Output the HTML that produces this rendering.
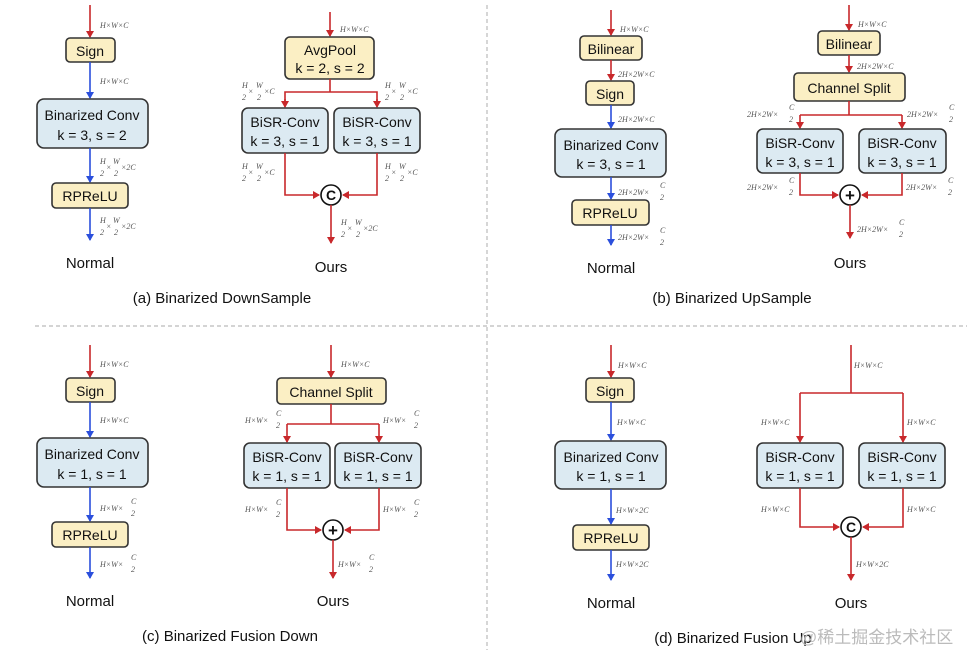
<!DOCTYPE html>
<html><head><meta charset="utf-8"><style>
html,body{margin:0;padding:0;background:#fff}
svg{display:block}
.b{font:14px "Liberation Sans",sans-serif;fill:#111;text-anchor:middle}
.t{font:15px "Liberation Sans",sans-serif;fill:#111;text-anchor:middle}
.l{font:italic 8px "Liberation Serif",serif;fill:#555}
.y{fill:#fbefc4;stroke:#333;stroke-width:1.6}
.c{fill:#dceaf2;stroke:#333;stroke-width:1.6}
.r{stroke:#c8282b;stroke-width:1.6;fill:none}
.u{stroke:#2b4fdc;stroke-width:1.6;fill:none}
.fl{stroke:#777;stroke-width:0.6}
.d{stroke:#bbb;stroke-width:1.2;stroke-dasharray:4 3}
</style></head><body>
<svg width="967" height="655" viewBox="0 0 967 655" xmlns="http://www.w3.org/2000/svg">
<defs>
<marker id="ar" markerWidth="8" markerHeight="8" refX="6" refY="4" orient="auto" markerUnits="userSpaceOnUse"><path d="M0,0 L7,4 L0,8 z" fill="#c8282b"/></marker>
<marker id="ab" markerWidth="8" markerHeight="8" refX="6" refY="4" orient="auto" markerUnits="userSpaceOnUse"><path d="M0,0 L7,4 L0,8 z" fill="#2b4fdc"/></marker>
</defs>
<line class="d" x1="35" y1="326" x2="967" y2="326"/>
<line class="d" x1="487" y1="5" x2="487" y2="650"/>

<!-- (a) Normal -->
<line class="r" x1="90" y1="5" x2="90" y2="37" marker-end="url(#ar)"/>
<rect class="y" x="66" y="38" width="49" height="24" rx="4"/><text class="b" x="90" y="56">Sign</text>
<line class="u" x1="90" y1="62" x2="90" y2="98" marker-end="url(#ab)"/>
<rect class="c" x="37" y="99" width="111" height="49" rx="7"/><text class="b" x="92" y="120">Binarized Conv</text><text class="b" x="92" y="140">k = 3, s = 2</text>
<line class="u" x1="90" y1="148" x2="90" y2="182" marker-end="url(#ab)"/>
<rect class="y" x="52" y="183" width="76" height="25" rx="4"/><text class="b" x="90" y="201">RPReLU</text>
<line class="u" x1="90" y1="208" x2="90" y2="240" marker-end="url(#ab)"/>
<text class="t" x="90" y="268">Normal</text>
<text class="l" x="100" y="28">H×W×C</text>
<text class="l" x="100" y="84">H×W×C</text>
<g class="l"><text x="100" y="164">H</text><text x="100" y="176">2</text><text x="106" y="170">×</text><text x="113" y="164">W</text><text x="114" y="176">2</text><text x="121" y="170">×2C</text></g>
<g class="l"><text x="100" y="223">H</text><text x="100" y="235">2</text><text x="106" y="229">×</text><text x="113" y="223">W</text><text x="114" y="235">2</text><text x="121" y="229">×2C</text></g>

<!-- (a) Ours -->
<line class="r" x1="330" y1="12" x2="330" y2="36" marker-end="url(#ar)"/>
<rect class="y" x="285" y="37" width="89" height="42" rx="5"/><text class="b" x="330" y="55">AvgPool</text><text class="b" x="330" y="73">k = 2, s = 2</text>
<polyline class="r" points="330,79 330,92"/>
<polyline class="r" points="285,106 285,92 377,92 377,106"/>
<line class="r" x1="285" y1="99" x2="285" y2="107" marker-end="url(#ar)"/><line class="r" x1="377" y1="99" x2="377" y2="107" marker-end="url(#ar)"/>
<rect class="c" x="242" y="108" width="86" height="45" rx="6"/><text class="b" x="285" y="127">BiSR-Conv</text><text class="b" x="285" y="146">k = 3, s = 1</text>
<rect class="c" x="334" y="108" width="86" height="45" rx="6"/><text class="b" x="377" y="127">BiSR-Conv</text><text class="b" x="377" y="146">k = 3, s = 1</text>
<polyline class="r" points="285,153 285,195 319,195" marker-end="url(#ar)"/>
<polyline class="r" points="377,153 377,195 343,195" marker-end="url(#ar)"/>
<circle cx="331" cy="195" r="10" fill="#fff" stroke="#111" stroke-width="1.6"/><text class="b" x="331" y="200" style="font-weight:bold">C</text>
<line class="r" x1="331" y1="205" x2="331" y2="243" marker-end="url(#ar)"/>
<text class="t" x="331" y="272">Ours</text>
<text class="l" x="340" y="32">H×W×C</text>
<g class="l"><text x="242" y="88">H</text><text x="242" y="100">2</text><text x="248" y="94">×</text><text x="256" y="88">W</text><text x="257" y="100">2</text><text x="264" y="94">×C</text></g>
<g class="l"><text x="385" y="88">H</text><text x="385" y="100">2</text><text x="391" y="94">×</text><text x="399" y="88">W</text><text x="400" y="100">2</text><text x="407" y="94">×C</text></g>
<g class="l"><text x="242" y="169">H</text><text x="242" y="181">2</text><text x="248" y="175">×</text><text x="256" y="169">W</text><text x="257" y="181">2</text><text x="264" y="175">×C</text></g>
<g class="l"><text x="385" y="169">H</text><text x="385" y="181">2</text><text x="391" y="175">×</text><text x="399" y="169">W</text><text x="400" y="181">2</text><text x="407" y="175">×C</text></g>
<g class="l"><text x="341" y="225">H</text><text x="341" y="237">2</text><text x="347" y="231">×</text><text x="355" y="225">W</text><text x="356" y="237">2</text><text x="363" y="231">×2C</text></g>
<text class="t" x="222" y="303">(a) Binarized DownSample</text>

<!-- (b) Normal -->
<line class="r" x1="611" y1="10" x2="611" y2="35" marker-end="url(#ar)"/>
<rect class="y" x="580" y="36" width="62" height="24" rx="4"/><text class="b" x="611" y="54">Bilinear</text>
<line class="r" x1="611" y1="60" x2="611" y2="80" marker-end="url(#ar)"/>
<rect class="y" x="586" y="81" width="48" height="24" rx="4"/><text class="b" x="610" y="99">Sign</text>
<line class="u" x1="611" y1="105" x2="611" y2="128" marker-end="url(#ab)"/>
<rect class="c" x="555" y="129" width="111" height="48" rx="7"/><text class="b" x="611" y="150">Binarized Conv</text><text class="b" x="611" y="169">k = 3, s = 1</text>
<line class="u" x1="611" y1="177" x2="611" y2="199" marker-end="url(#ab)"/>
<rect class="y" x="572" y="200" width="77" height="25" rx="4"/><text class="b" x="610" y="218">RPReLU</text>
<line class="u" x1="611" y1="225" x2="611" y2="245" marker-end="url(#ab)"/>
<text class="t" x="611" y="273">Normal</text>
<text class="l" x="620" y="32">H×W×C</text>
<text class="l" x="618" y="77">2H×2W×C</text>
<text class="l" x="618" y="122">2H×2W×C</text>
<g class="l"><text x="618" y="195">2H×2W×</text><text x="660" y="188">C</text><text x="660" y="200">2</text></g>
<g class="l"><text x="618" y="240">2H×2W×</text><text x="660" y="233">C</text><text x="660" y="245">2</text></g>

<!-- (b) Ours -->
<line class="r" x1="849" y1="5" x2="849" y2="30" marker-end="url(#ar)"/>
<rect class="y" x="818" y="31" width="62" height="24" rx="4"/><text class="b" x="849" y="49">Bilinear</text>
<line class="r" x1="849" y1="55" x2="849" y2="72" marker-end="url(#ar)"/>
<rect class="y" x="794" y="73" width="111" height="28" rx="4"/><text class="b" x="849" y="93">Channel Split</text>
<polyline class="r" points="849,101 849,115"/>
<polyline class="r" points="800,115 902,115"/>
<line class="r" x1="800" y1="115" x2="800" y2="128" marker-end="url(#ar)"/><line class="r" x1="902" y1="115" x2="902" y2="128" marker-end="url(#ar)"/>
<rect class="c" x="757" y="129" width="86" height="44" rx="6"/><text class="b" x="800" y="148">BiSR-Conv</text><text class="b" x="800" y="167">k = 3, s = 1</text>
<rect class="c" x="859" y="129" width="87" height="44" rx="6"/><text class="b" x="902" y="148">BiSR-Conv</text><text class="b" x="902" y="167">k = 3, s = 1</text>
<polyline class="r" points="800,173 800,195 838,195" marker-end="url(#ar)"/>
<polyline class="r" points="902,173 902,195 862,195" marker-end="url(#ar)"/>
<circle cx="850" cy="195" r="10" fill="#fff" stroke="#111" stroke-width="1.6"/><text class="b" x="850" y="201" style="font-weight:bold;font-size:17px">+</text>
<line class="r" x1="850" y1="205" x2="850" y2="238" marker-end="url(#ar)"/>
<text class="t" x="850" y="268">Ours</text>
<text class="l" x="858" y="27">H×W×C</text>
<text class="l" x="857" y="69">2H×2W×C</text>
<g class="l"><text x="747" y="117">2H×2W×</text><text x="789" y="110">C</text><text x="789" y="122">2</text></g>
<g class="l"><text x="907" y="117">2H×2W×</text><text x="949" y="110">C</text><text x="949" y="122">2</text></g>
<g class="l"><text x="747" y="190">2H×2W×</text><text x="789" y="183">C</text><text x="789" y="195">2</text></g>
<g class="l"><text x="906" y="190">2H×2W×</text><text x="948" y="183">C</text><text x="948" y="195">2</text></g>
<g class="l"><text x="857" y="232">2H×2W×</text><text x="899" y="225">C</text><text x="899" y="237">2</text></g>
<text class="t" x="732" y="303">(b) Binarized UpSample</text>

<!-- (c) Normal -->
<line class="r" x1="90" y1="345" x2="90" y2="377" marker-end="url(#ar)"/>
<rect class="y" x="66" y="378" width="49" height="24" rx="4"/><text class="b" x="90" y="396">Sign</text>
<line class="u" x1="90" y1="402" x2="90" y2="437" marker-end="url(#ab)"/>
<rect class="c" x="37" y="438" width="111" height="49" rx="7"/><text class="b" x="92" y="459">Binarized Conv</text><text class="b" x="92" y="479">k = 1, s = 1</text>
<line class="u" x1="90" y1="487" x2="90" y2="521" marker-end="url(#ab)"/>
<rect class="y" x="52" y="522" width="76" height="25" rx="4"/><text class="b" x="90" y="540">RPReLU</text>
<line class="u" x1="90" y1="547" x2="90" y2="578" marker-end="url(#ab)"/>
<text class="t" x="90" y="606">Normal</text>
<text class="l" x="100" y="367">H×W×C</text>
<text class="l" x="100" y="423">H×W×C</text>
<g class="l"><text x="100" y="511">H×W×</text><text x="131" y="504">C</text><text x="131" y="516">2</text></g>
<g class="l"><text x="100" y="567">H×W×</text><text x="131" y="560">C</text><text x="131" y="572">2</text></g>

<!-- (c) Ours -->
<line class="r" x1="331" y1="345" x2="331" y2="377" marker-end="url(#ar)"/>
<rect class="y" x="277" y="378" width="109" height="26" rx="4"/><text class="b" x="331" y="397">Channel Split</text>
<polyline class="r" points="331,404 331,424"/>
<polyline class="r" points="287,424 379,424"/>
<line class="r" x1="287" y1="424" x2="287" y2="442" marker-end="url(#ar)"/><line class="r" x1="379" y1="424" x2="379" y2="442" marker-end="url(#ar)"/>
<rect class="c" x="244" y="443" width="86" height="45" rx="6"/><text class="b" x="287" y="462">BiSR-Conv</text><text class="b" x="287" y="481">k = 1, s = 1</text>
<rect class="c" x="335" y="443" width="86" height="45" rx="6"/><text class="b" x="378" y="462">BiSR-Conv</text><text class="b" x="378" y="481">k = 1, s = 1</text>
<polyline class="r" points="287,488 287,530 321,530" marker-end="url(#ar)"/>
<polyline class="r" points="379,488 379,530 345,530" marker-end="url(#ar)"/>
<circle cx="333" cy="530" r="10" fill="#fff" stroke="#111" stroke-width="1.6"/><text class="b" x="333" y="536" style="font-weight:bold;font-size:17px">+</text>
<line class="r" x1="333" y1="540" x2="333" y2="578" marker-end="url(#ar)"/>
<text class="t" x="333" y="606">Ours</text>
<text class="l" x="341" y="367">H×W×C</text>
<g class="l"><text x="245" y="423">H×W×</text><text x="276" y="416">C</text><text x="276" y="428">2</text></g>
<g class="l"><text x="383" y="423">H×W×</text><text x="414" y="416">C</text><text x="414" y="428">2</text></g>
<g class="l"><text x="245" y="512">H×W×</text><text x="276" y="505">C</text><text x="276" y="517">2</text></g>
<g class="l"><text x="383" y="512">H×W×</text><text x="414" y="505">C</text><text x="414" y="517">2</text></g>
<g class="l"><text x="338" y="567">H×W×</text><text x="369" y="560">C</text><text x="369" y="572">2</text></g>
<text class="t" x="230" y="641">(c) Binarized Fusion Down</text>

<!-- (d) Normal -->
<line class="r" x1="611" y1="345" x2="611" y2="377" marker-end="url(#ar)"/>
<rect class="y" x="586" y="378" width="48" height="24" rx="4"/><text class="b" x="610" y="396">Sign</text>
<line class="u" x1="611" y1="402" x2="611" y2="440" marker-end="url(#ab)"/>
<rect class="c" x="555" y="441" width="111" height="48" rx="7"/><text class="b" x="611" y="462">Binarized Conv</text><text class="b" x="611" y="481">k = 1, s = 1</text>
<line class="u" x1="611" y1="489" x2="611" y2="524" marker-end="url(#ab)"/>
<rect class="y" x="573" y="525" width="76" height="25" rx="4"/><text class="b" x="611" y="543">RPReLU</text>
<line class="u" x1="611" y1="550" x2="611" y2="580" marker-end="url(#ab)"/>
<text class="t" x="611" y="608">Normal</text>
<text class="l" x="618" y="368">H×W×C</text>
<text class="l" x="617" y="425">H×W×C</text>
<text class="l" x="616" y="513">H×W×2C</text>
<text class="l" x="616" y="567">H×W×2C</text>

<!-- (d) Ours -->
<polyline class="r" points="851,345 851,393"/>
<polyline class="r" points="800,393 903,393"/>
<line class="r" x1="800" y1="393" x2="800" y2="442" marker-end="url(#ar)"/><line class="r" x1="903" y1="393" x2="903" y2="442" marker-end="url(#ar)"/>
<rect class="c" x="757" y="443" width="86" height="45" rx="6"/><text class="b" x="800" y="462">BiSR-Conv</text><text class="b" x="800" y="481">k = 1, s = 1</text>
<rect class="c" x="859" y="443" width="86" height="45" rx="6"/><text class="b" x="902" y="462">BiSR-Conv</text><text class="b" x="902" y="481">k = 1, s = 1</text>
<polyline class="r" points="800,488 800,527 839,527" marker-end="url(#ar)"/>
<polyline class="r" points="903,488 903,527 863,527" marker-end="url(#ar)"/>
<circle cx="851" cy="527" r="10" fill="#fff" stroke="#111" stroke-width="1.6"/><text class="b" x="851" y="532" style="font-weight:bold">C</text>
<line class="r" x1="851" y1="537" x2="851" y2="580" marker-end="url(#ar)"/>
<text class="t" x="851" y="608">Ours</text>
<text class="l" x="854" y="368">H×W×C</text>
<text class="l" x="761" y="425">H×W×C</text>
<text class="l" x="907" y="425">H×W×C</text>
<text class="l" x="761" y="512">H×W×C</text>
<text class="l" x="907" y="512">H×W×C</text>
<text class="l" x="856" y="567">H×W×2C</text>
<text class="t" x="733" y="643">(d) Binarized Fusion Up</text>
<text x="800" y="643" style="font:17px 'Liberation Sans','Noto Sans CJK SC',sans-serif;fill:#bbb">@稀土掘金技术社区</text>
</svg>
</body></html>
